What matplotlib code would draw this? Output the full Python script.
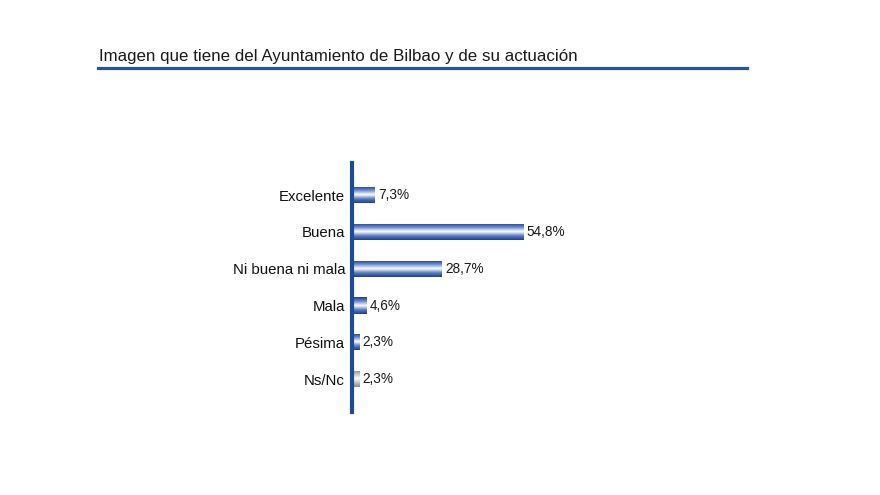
import numpy as np
import matplotlib.pyplot as plt
from matplotlib.colors import LinearSegmentedColormap

plt.rcParams['font.family'] = ['Liberation Sans', 'DejaVu Sans']

categorias = ['Excelente', 'Buena', 'Ni buena ni mala', 'Mala', 'Pésima', 'Ns/Nc']
porcentajes = [7.3, 54.8, 28.7, 4.6, 2.3, 2.3]
etiquetas = ['7,3%', '54,8%', '28,7%', '4,6%', '2,3%', '2,3%']
titulo = 'Imagen que tiene del Ayuntamiento de Bilbao y de su actuación'

azul = LinearSegmentedColormap.from_list('azul', ['#1d3f8a', '#6f8fcf', '#ffffff', '#5d7fc4', '#1d3f8a'])
gris = LinearSegmentedColormap.from_list('gris', ['#8a8a8a', '#c8c8c8', '#ffffff', '#c0c0c0', '#8a8a8a'])
grad = np.linspace(0, 1, 64).reshape(-1, 1)

fig = plt.figure(figsize=(8.8, 4.95), dpi=100)

# titulo y linea
fig.text(99 / 880, 1 - 57 / 495, titulo, fontsize=12.2, color='#1a1a1a', va='center', ha='left')
fig.add_artist(plt.Line2D([98 / 880, 747 / 880], [1 - 68 / 495] * 2, color='#2b559b', lw=2.3))

ax = fig.add_axes([352 / 880, 1 - 412 / 495, 188 / 880, 249 / 495])
y = np.arange(len(categorias))
h = 0.44
bars = ax.barh(y, porcentajes, height=h, color='none', edgecolor='none')
for i, (b, v) in enumerate(zip(bars, porcentajes)):
    cmap = gris if categorias[i] == 'Ns/Nc' else azul
    im = ax.imshow(grad, cmap=cmap, aspect='auto', extent=(0, v, y[i] + h / 2, y[i] - h / 2),
                   interpolation='bilinear', zorder=2)
    im.set_clip_path(b)
    ax.text(v + 1.0, y[i], etiquetas[i], va='center', ha='left', fontsize=9.8, color='#1a1a1a')

ax.set_xlim(0, 60)
ax.set_ylim(5.89, -0.87)
ax.set_yticks(y)
ax.set_yticklabels(categorias, fontsize=10.8, color='#111111')
ax.tick_params(axis='y', length=0, pad=5)
ax.set_xticks([])
for s in ['top', 'right', 'bottom']:
    ax.spines[s].set_visible(False)
ax.spines['left'].set_color('#1f4b96')
ax.spines['left'].set_linewidth(3)
ax.patch.set_alpha(0)

fig.savefig('out.png', dpi=100)
